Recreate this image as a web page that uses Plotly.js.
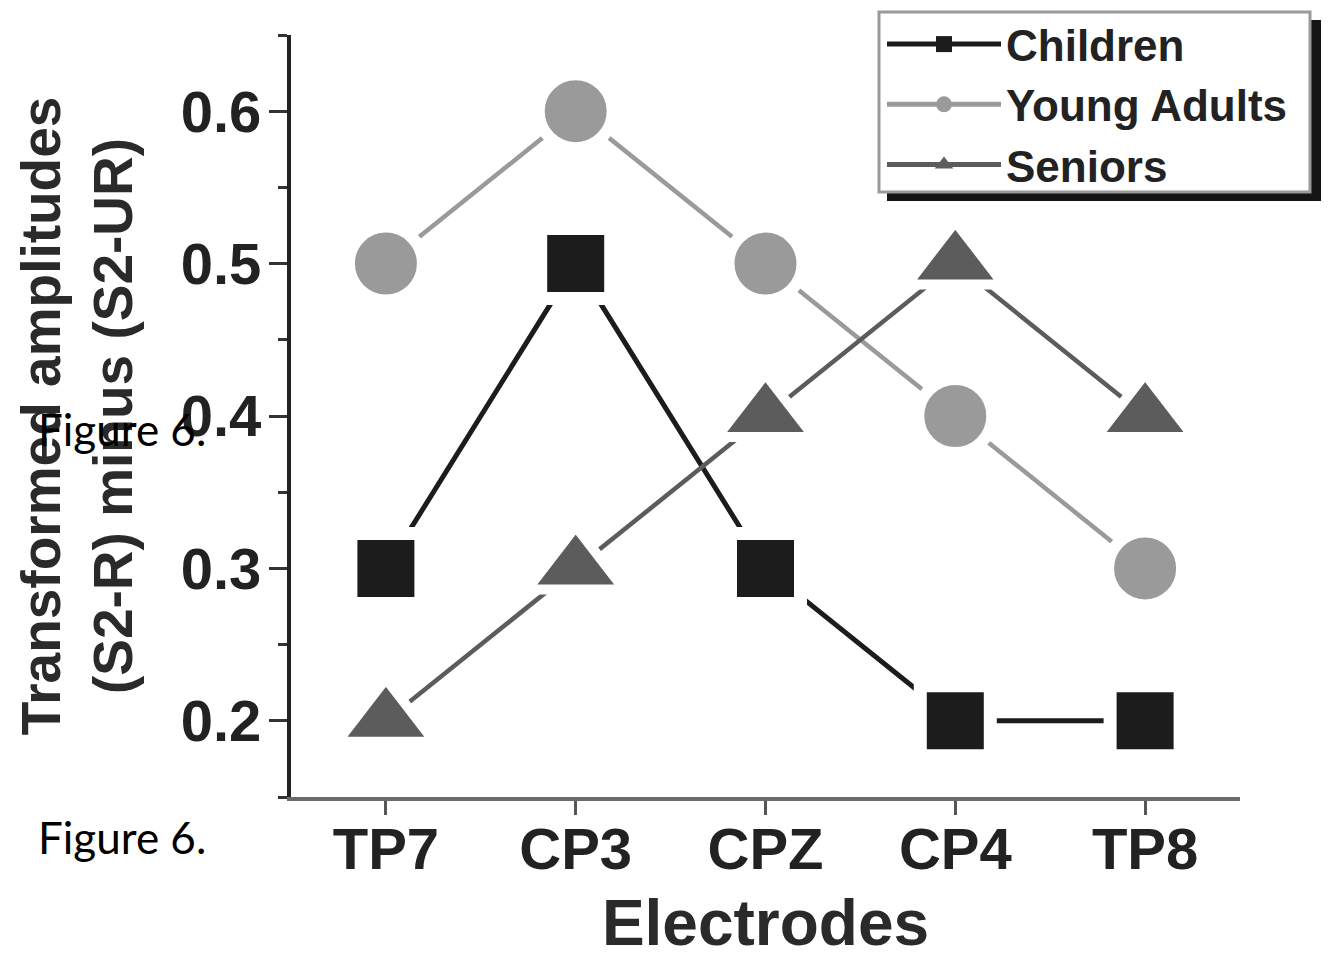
<!DOCTYPE html>
<html>
<head>
<meta charset="utf-8">
<script src="https://cdn.plot.ly/plotly-3.0.1.min.js"></script>
<style>html,body{margin:0;padding:0;background:#fff;}#chart{width:1332px;height:959px;}</style>
</head>
<body>
<div id="chart"></div>
<script>
// ---- data ----
const electrodes = ["TP7", "CP3", "CPZ", "CP4", "TP8"];
const children = [0.3, 0.5, 0.3, 0.2, 0.2];
const youngAdults = [0.5, 0.6, 0.5, 0.4, 0.3];
const seniors = [0.2, 0.3, 0.4, 0.5, 0.4];
const seriesNames = ["Children", "Young Adults", "Seniors"];
const yTickVals = [0.2, 0.3, 0.4, 0.5, 0.6];
const yTickText = ["0.2", "0.3", "0.4", "0.5", "0.6"];

const FONT = "Liberation Sans, Arial, sans-serif";
const colChildren = "#1c1c1c", colYoung = "#9a9a9a", colSeniors = "#5c5c5c";

function mainTrace(y, color, lineW, symbol, size, gap) {
  return {
    type: "scatter", mode: "lines+markers", x: electrodes, y: y,
    showlegend: false, hoverinfo: "skip",
    line: {color: color, width: lineW},
    marker: {symbol: symbol, size: size, color: color, line: {color: "#ffffff", width: gap}}
  };
}
function legendTrace(name, color, lineW, symbol) {
  return {
    type: "scatter", mode: "lines+markers", x: [null], y: [null], name: name,
    line: {color: color, width: lineW},
    marker: {symbol: symbol, size: 16, color: color}
  };
}

const traces = [
  mainTrace(children, colChildren, 5, "square", 70, 13),
  mainTrace(youngAdults, colYoung, 4.5, "circle", 74, 12),
  mainTrace(seniors, colSeniors, 4.5, "triangle-up", 84, 10),
  legendTrace(seriesNames[0], colChildren, 5, "square"),
  legendTrace(seriesNames[1], colYoung, 5, "circle"),
  legendTrace(seriesNames[2], colSeniors, 5, "triangle-up")
];

// paper-coordinate helpers for legend frame (plot area: x 291..1240, y 35..797)
const px = v => (v - 291) / 949;
const py = v => (797 - v) / 762;

const layout = {
  width: 1332, height: 959,
  margin: {l: 291, r: 92, t: 35, b: 162, autoexpand: false},
  paper_bgcolor: "#ffffff", plot_bgcolor: "#ffffff",
  font: {family: FONT, color: "#222"},
  showlegend: true,
  legend: {
    x: px(882), y: py(9), xanchor: "left", yanchor: "top",
    bgcolor: "rgba(0,0,0,0)", borderwidth: 0,
    font: {family: FONT, size: 44, color: "#222", weight: "bold"},
    itemwidth: 114, tracegroupgap: 0
  },
  xaxis: {
    type: "category", categoryorder: "array", categoryarray: electrodes,
    range: [-0.5, 4.5], showline: true, linecolor: "#6a6a6a", linewidth: 4,
    ticks: "outside", ticklen: 14, tickwidth: 3, tickcolor: "#555",
    ticklabelstandoff: -16, automargin: false,
    showgrid: false, zeroline: false,
    tickfont: {family: FONT, size: 58, color: "#222", weight: "bold"},
    title: {text: "Electrodes", font: {family: FONT, size: 64, color: "#2a2a2a", weight: "bold"}, standoff: 26}
  },
  yaxis: {
    range: [0.15, 0.65], showline: true, linecolor: "#222", linewidth: 4,
    ticks: "outside", ticklen: 18, tickwidth: 3, tickcolor: "#333",
    ticklabelstandoff: -4, automargin: false,
    tickvals: yTickVals, ticktext: yTickText,
    minor: {tickvals: [0.15, 0.25, 0.35, 0.45, 0.55, 0.65], ticks: "outside", ticklen: 9, tickwidth: 3, tickcolor: "#333", showgrid: false},
    showgrid: false, zeroline: false,
    tickfont: {family: FONT, size: 58, color: "#222", weight: "bold"},
    title: {text: "Transformed amplitudes<br>(S2-R) minus (S2-UR)", font: {family: FONT, size: 55, color: "#2a2a2a", weight: "bold"}, standoff: 32}
  },
  shapes: [
    {type: "rect", xref: "paper", yref: "paper", x0: px(887), x1: px(1321), y0: py(201), y1: py(20), fillcolor: "#151515", line: {width: 0}, layer: "above"},
    {type: "rect", xref: "paper", yref: "paper", x0: px(879), x1: px(1310), y0: py(192), y1: py(12), fillcolor: "#ffffff", line: {color: "#9a9a9a", width: 3}, layer: "above"}
  ],
  annotations: [
    {xref: "paper", yref: "paper", x: px(36), y: py(429), xanchor: "left", yanchor: "middle", showarrow: false, text: "Figure 6.", font: {family: "Lato, sans-serif", size: 44, color: "#000"}},
    {xref: "paper", yref: "paper", x: px(36), y: py(837), xanchor: "left", yanchor: "middle", showarrow: false, text: "Figure 6.", font: {family: "Lato, sans-serif", size: 44, color: "#000"}}
  ]
};

Plotly.newPlot("chart", traces, layout, {staticPlot: true, displayModeBar: false});
</script>
</body>
</html>
